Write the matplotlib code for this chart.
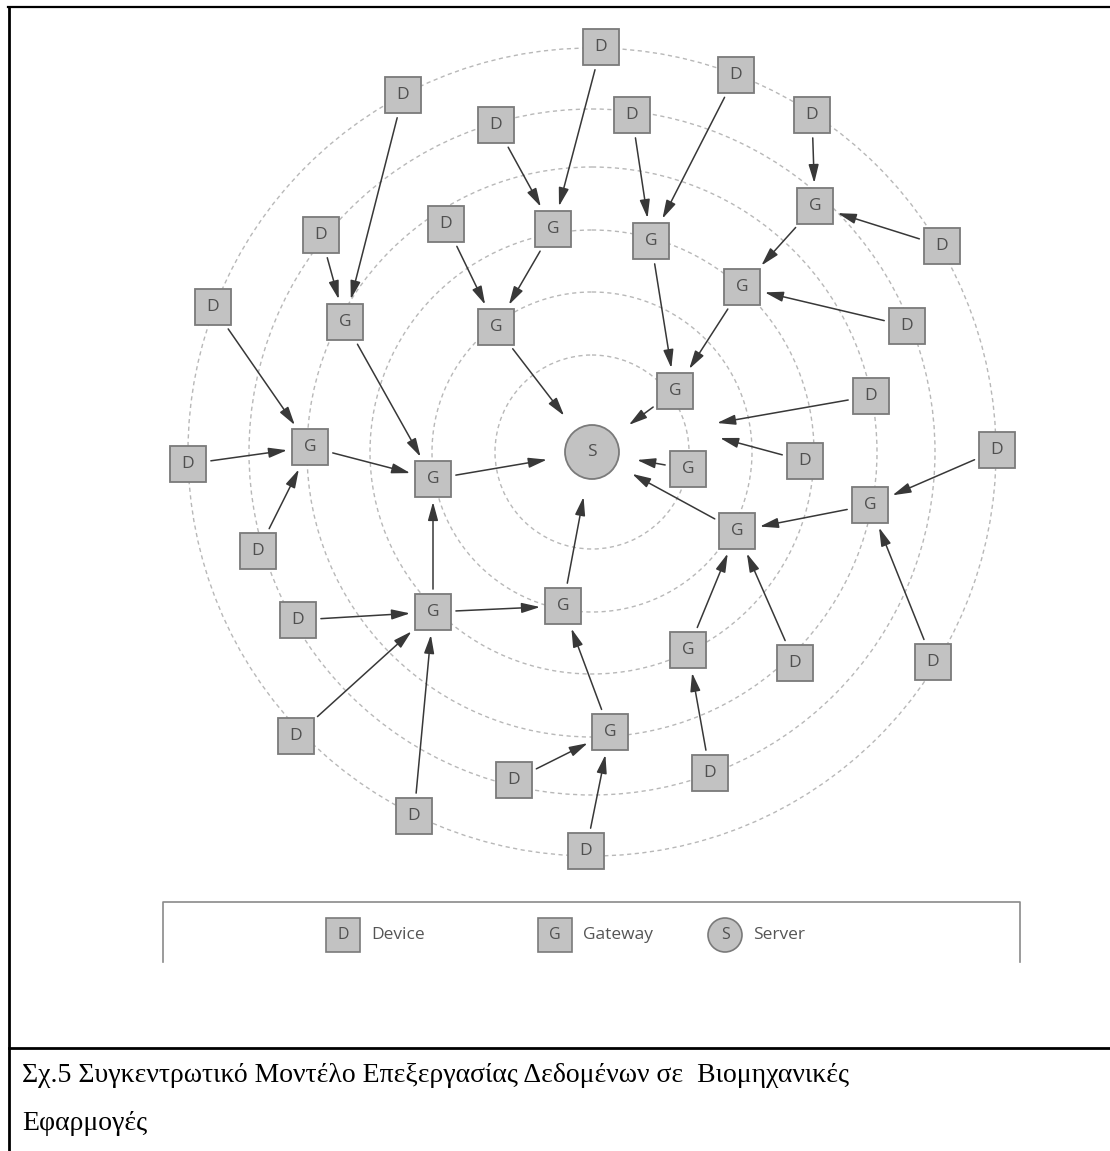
import matplotlib
matplotlib.use("Agg")
import matplotlib.pyplot as plt
from matplotlib.patches import Rectangle, Circle, FancyArrowPatch

# node positions (pixel coords, y downwards)
device_x = [601, 403, 736, 496, 632, 812, 321, 446, 942, 213, 907, 871,
            188, 805, 997, 258, 298, 795, 933, 296, 514, 710, 414, 586]
device_y = [47, 95, 75, 125, 115, 115, 235, 224, 246, 307, 326, 396,
            464, 461, 450, 551, 620, 663, 662, 736, 780, 773, 816, 851]
gateway_x = [815, 553, 651, 742, 345, 496, 675, 310, 433, 688, 870, 737,
             433, 563, 688, 610]
gateway_y = [206, 229, 241, 287, 322, 327, 391, 447, 479, 469, 505, 531,
             612, 606, 650, 732]
server_xy = (592, 452)
ring_radii = [97, 160, 222, 285, 343, 404]

# edges: ("D", i) / ("G", i) / ("S", 0)
edges = [
    (("D", 0), ("G", 1)), (("D", 3), ("G", 1)), (("D", 1), ("G", 4)),
    (("D", 6), ("G", 4)), (("D", 7), ("G", 5)), (("G", 1), ("G", 5)),
    (("D", 4), ("G", 2)), (("D", 2), ("G", 2)), (("D", 5), ("G", 0)),
    (("D", 8), ("G", 0)), (("G", 0), ("G", 3)), (("D", 10), ("G", 3)),
    (("G", 3), ("G", 6)), (("G", 2), ("G", 6)), (("G", 6), ("S", 0)),
    (("G", 5), ("S", 0)), (("G", 9), ("S", 0)), (("G", 11), ("S", 0)),
    (("G", 13), ("S", 0)), (("G", 8), ("S", 0)), (("G", 7), ("G", 8)),
    (("D", 12), ("G", 7)), (("D", 15), ("G", 7)), (("D", 9), ("G", 7)),
    (("G", 4), ("G", 8)), (("G", 12), ("G", 8)), (("D", 16), ("G", 12)),
    (("D", 19), ("G", 12)), (("D", 22), ("G", 12)), (("G", 12), ("G", 13)),
    (("G", 15), ("G", 13)), (("D", 20), ("G", 15)), (("D", 23), ("G", 15)),
    (("D", 14), ("G", 10)), (("D", 18), ("G", 10)), (("G", 10), ("G", 11)),
    (("D", 17), ("G", 11)), (("G", 14), ("G", 11)), (("D", 21), ("G", 14)),
]
# two arrows that stop in empty space near the server
loose_edges = [(11, (717, 423)), (13, (720, 438))]

legend_labels = ["Device", "Gateway", "Server"]
caption_lines = ["Σχ.5 Συγκεντρωτικό Μοντέλο Επεξεργασίας Δεδομένων σε  Βιομηχανικές",
                 "Εφαρμογές"]

W, H = 1110, 1151
BOX = 36
fig = plt.figure(figsize=(W / 100, H / 100), dpi=100)
ax = fig.add_axes([0, 0, 1, 1])
ax.set_xlim(0, W)
ax.set_ylim(H, 0)
ax.axis("off")

box_face = "#c2c2c2"
box_edge = "#7a7a7a"
letter_col = "#505050"
arrow_col = "#383838"

for r in ring_radii:
    ax.add_patch(Circle(server_xy, r, fill=False, ec="#b8b8b8", lw=1.0,
                        ls=(0, (3, 2.5)), zorder=1))


def box(x, y, letter, size=BOX):
    p = Rectangle((x - size / 2, y - size / 2), size, size, fc=box_face,
                  ec=box_edge, lw=1.3, zorder=3)
    ax.add_patch(p)
    ax.text(x, y, letter, ha="center", va="center", fontsize=12.5,
            family="Open Sans", color=letter_col, zorder=4)
    return p


patches = {}
for i, (x, y) in enumerate(zip(device_x, device_y)):
    patches[("D", i)] = box(x, y, "D")
for i, (x, y) in enumerate(zip(gateway_x, gateway_y)):
    patches[("G", i)] = box(x, y, "G")
srv = Circle(server_xy, 27, fc=box_face, ec=box_edge, lw=1.3, zorder=3)
ax.add_patch(srv)
ax.text(server_xy[0], server_xy[1], "S", ha="center", va="center",
        fontsize=12.5, family="Open Sans", color=letter_col, zorder=4)
patches[("S", 0)] = srv


def center(key):
    kind, i = key
    if kind == "D":
        return device_x[i], device_y[i]
    if kind == "G":
        return gateway_x[i], gateway_y[i]
    return server_xy


def arrow(a, b, pa=None, pb=None, sa=4, sb=4):
    ax.add_patch(FancyArrowPatch(a, b, patchA=pa, patchB=pb, shrinkA=sa,
                                 shrinkB=sb, arrowstyle="-|>,head_length=0.8,head_width=0.22",
                                 mutation_scale=14, color=arrow_col, lw=1.1,
                                 zorder=2))


for src, dst in edges:
    sb = 14 if dst[0] == "S" else 4
    arrow(center(src), center(dst), patches[src], patches[dst], sb=sb)
for i, end in loose_edges:
    arrow(center(("D", i)), end, patches[("D", i)], None, sb=0)

# legend panel
ax.plot([163, 163, 1020, 1020], [962, 902, 902, 962], color="#8a8a8a", lw=1.2)
lx = [343, 555, 725]
for x, lab, letter in zip(lx, legend_labels, "DGS"):
    if letter == "S":
        ax.add_patch(Circle((x, 935), 17, fc=box_face, ec=box_edge, lw=1.2))
    else:
        ax.add_patch(Rectangle((x - 17, 935 - 17), 34, 34, fc=box_face,
                               ec=box_edge, lw=1.2))
    ax.text(x, 935, letter, ha="center", va="center", fontsize=11.5,
            family="Open Sans", color=letter_col)
    ax.text(x + 28, 935, lab, ha="left", va="center", fontsize=12.5,
            family="Open Sans", color="#555555")

# document frame
ax.plot([9, 9], [H, 7], color="black", lw=2)
ax.plot([8, W], [7, 7], color="black", lw=1.6)
ax.plot([9, W], [1048, 1048], color="black", lw=2)

ax.text(22, 1076, caption_lines[0], ha="left", va="center", fontsize=20,
        family="Liberation Serif", color="black")
ax.text(22, 1124, caption_lines[1], ha="left", va="center", fontsize=20,
        family="Liberation Serif", color="black")

fig.savefig("out.png", dpi=100)
